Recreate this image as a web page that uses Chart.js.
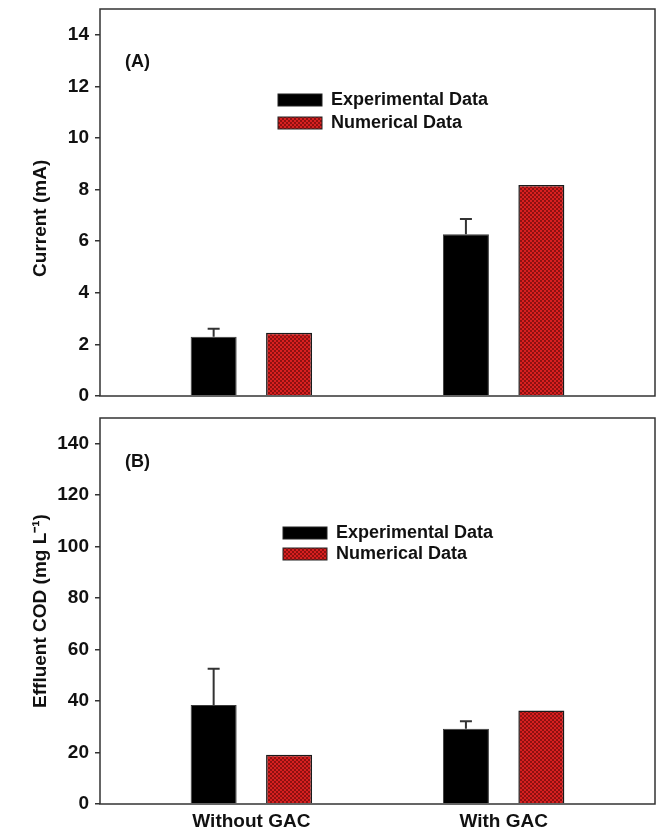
<!DOCTYPE html>
<html>
<head>
<meta charset="utf-8">
<script src="https://cdn.jsdelivr.net/npm/chart.js@4"></script>
<style>
  body { margin: 0; background: #fff; }
  canvas { display: block; }
</style>
</head>
<body>
<canvas id="chartA" width="662" height="415"></canvas>
<canvas id="chartB" width="662" height="418"></canvas>
<script>
// data
const categories = ['Without GAC', 'With GAC'];
const catPos = [0, 1];
const seriesNames = ['Experimental Data', 'Numerical Data'];

const currentExp = [2.30, 6.27];
const currentExpErr = [0.31, 0.59];
const currentNum = [2.45, 8.18];

const codExp = [38.5, 29.2];
const codExpErr = [14.1, 3.0];
const codNum = [19.1, 36.3];

const currentTicks = { min: 0, max: 15, step: 2 };
const codTicks = { min: 0, max: 150, step: 20 };

const FONT = 'Liberation Sans, Arial, sans-serif';
const AXIS = '#333';

function makePattern() {
    const c = document.createElement('canvas');
    c.width = 4; c.height = 4;
    const g = c.getContext('2d');
    g.fillStyle = '#d82020';
    g.fillRect(0, 0, 4, 4);
    g.fillStyle = '#8e1010';
    g.fillRect(0, 0, 2, 2);
    g.fillRect(2, 2, 2, 2);
    return g.createPattern(c, 'repeat');
}
const redPattern = makePattern();

const toXY = vals => vals.map((v, i) => ({ x: catPos[i], y: v }));

// error bars (upper only) for the experimental dataset
const errorBars = {
    id: 'errorBars',
    afterDatasetsDraw(chart, args, opts) {
        const meta = chart.getDatasetMeta(0);
        const y = chart.scales.y;
        const ctx = chart.ctx;
        ctx.save();
        ctx.strokeStyle = AXIS;
        ctx.lineWidth = 2;
        meta.data.forEach((bar, i) => {
            const top = y.getPixelForValue(opts.values[i] + opts.errors[i]);
            ctx.beginPath();
            ctx.moveTo(bar.x, bar.y);
            ctx.lineTo(bar.x, top);
            ctx.moveTo(bar.x - 6, top);
            ctx.lineTo(bar.x + 6, top);
            ctx.stroke();
        });
        ctx.restore();
    }
};

// frame, panel tag and in-plot legend
const panelDecor = {
    id: 'panelDecor',
    afterDraw(chart, args, opts) {
        const ctx = chart.ctx;
        const a = chart.chartArea;
        ctx.save();
        ctx.strokeStyle = AXIS;
        ctx.lineWidth = 1.5;
        ctx.strokeRect(a.left, a.top, a.right - a.left, a.bottom - a.top);

        ctx.fillStyle = '#111';
        ctx.font = 'bold 18px ' + FONT;
        ctx.textBaseline = 'middle';
        ctx.textAlign = 'left';
        ctx.fillText(opts.tag, a.left + 25, a.top + opts.tagY);

        const fills = ['#000', redPattern];
        seriesNames.forEach((name, i) => {
            const bx = a.left + opts.legendX;
            const by = a.top + opts.legendY + i * opts.rowGap;
            ctx.fillStyle = fills[i];
            ctx.fillRect(bx, by - 6, 44, 12);
            ctx.strokeStyle = '#222';
            ctx.lineWidth = 1;
            ctx.strokeRect(bx, by - 6, 44, 12);
            ctx.fillStyle = '#111';
            ctx.fillText(name, bx + 53, by);
        });
        ctx.restore();
    }
};

function noPad(s) {
    s.paddingTop = 0; s.paddingBottom = 0;
    s.paddingLeft = 0; s.paddingRight = 0;
}

function buildChart(id, cfg) {
    return new Chart(document.getElementById(id), {
        type: 'bar',
        data: {
            datasets: [
                { label: seriesNames[0], data: toXY(cfg.exp), backgroundColor: '#000',
                  borderColor: '#3a3a3a', borderWidth: 1 },
                { label: seriesNames[1], data: toXY(cfg.num), backgroundColor: redPattern,
                  borderColor: '#1a1a1a', borderWidth: 1.5 }
            ]
        },
        options: {
            responsive: false,
            animation: false,
            categoryPercentage: 0.598,
            barPercentage: 0.61,
            layout: { padding: { left: 0, right: 7, top: cfg.padTop, bottom: 0 } },
            scales: {
                x: {
                    type: 'linear',
                    min: -0.6,
                    max: 1.6,
                    offset: false,
                    afterBuildTicks: s => { s.ticks = catPos.map(v => ({ value: v })); },
                    afterFit: s => { s.height = cfg.xHeight; noPad(s); },
                    grid: { display: false, drawTicks: false },
                    border: { display: false },
                    ticks: {
                        display: cfg.showX,
                        padding: 6,
                        color: '#111',
                        font: { family: FONT, size: 19, weight: 'bold' },
                        callback: (v, i) => categories[i]
                    }
                },
                y: {
                    min: cfg.ticks.min,
                    max: cfg.ticks.max,
                    afterFit: s => { s.width = 100; noPad(s); },
                    border: { display: false },
                    grid: { drawOnChartArea: false, drawTicks: true, tickLength: 5, color: AXIS, lineWidth: 1.5 },
                    ticks: {
                        stepSize: cfg.ticks.step,
                        includeBounds: false,
                        padding: 6,
                        color: '#111',
                        font: { family: FONT, size: 19, weight: 'bold' }
                    },
                    title: {
                        display: true,
                        text: cfg.title,
                        color: '#111',
                        padding: { top: 29, bottom: 0 },
                        font: { family: FONT, size: 19, weight: 'bold' }
                    }
                }
            },
            plugins: {
                legend: { display: false },
                tooltip: { enabled: false },
                errorBars: { values: cfg.exp, errors: cfg.err },
                panelDecor: cfg.decor
            }
        },
        plugins: [errorBars, panelDecor]
    });
}

buildChart('chartA', {
    exp: currentExp, err: currentExpErr, num: currentNum,
    ticks: currentTicks,
    title: 'Current (mA)\u00a0\u00a0\u00a0\u00a0\u00a0\u00a0',
    padTop: 9, xHeight: 19, showX: false,
    decor: { tag: '(A)', tagY: 53, legendX: 178, legendY: 91, rowGap: 23 }
});

buildChart('chartB', {
    exp: codExp, err: codExpErr, num: codNum,
    ticks: codTicks,
    title: 'Effluent COD (mg L\u207B\u00B9)',
    padTop: 3, xHeight: 29, showX: true,
    decor: { tag: '(B)', tagY: 44, legendX: 183, legendY: 115, rowGap: 21 }
});
</script>
</body>
</html>
